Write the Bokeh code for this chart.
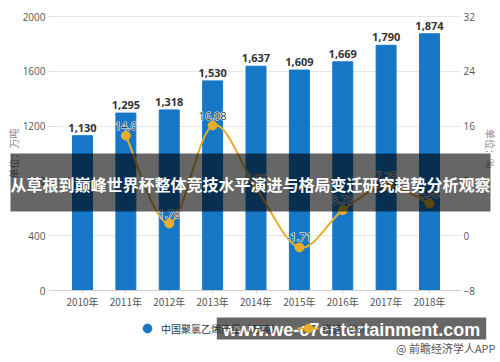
import numpy as np
from bokeh.plotting import figure
from bokeh.models import (Range1d, LinearAxis, FixedTicker, Label, Legend, LegendItem)
from bokeh.embed import file_html
from bokeh.resources import INLINE
from bokeh.core.properties import value

# ---------------- data ----------------
years = ["2010年", "2011年", "2012年", "2013年", "2014年", "2015年", "2016年", "2017年", "2018年"]
output = [1130, 1295, 1318, 1530, 1637, 1609, 1669, 1790, 1874]          # 万吨
growth_years = ["2011年", "2012年", "2013年", "2014年", "2015年", "2016年", "2017年", "2018年"]
growth = [14.6, 1.78, 16.08, 6.99, -1.71, 3.73, 7.25, 4.69]             # %
left_ticks = [0, 400, 800, 1200, 1600, 2000]
right_ticks = [-8, 0, 8, 16, 24, 32]

BLUE = "#1677C6"
GOLD = "#E5AE2C"
CJK = "Noto Sans CJK SC"

# ---------------- layout (pixels) ----------------
W, H = 500, 362
C0, C8 = 82, 429           # pixel centre of first / last category
PL, PR = 52, 460           # plot area left / right edge
PT, PB = 16, 290           # plot area top / bottom edge

ppx = (C8 - C0) / (len(years) - 1)
def xdata(px):
    return (px - C0) / ppx

lmin, lmax = left_ticks[0], left_ticks[-1]
rmin, rmax = right_ticks[0], right_ticks[-1]
ppl = (PB - PT) / (lmax - lmin)
ppr = (PB - PT) / (rmax - rmin)

p = figure(width=W, height=H, output_backend="svg", toolbar_location=None,
           x_range=Range1d(xdata(0), xdata(W)),
           y_range=Range1d(lmin - (H - PB) / ppl, lmax + PT / ppl),
           min_border_left=0, min_border_right=0, min_border_top=0, min_border_bottom=0)
p.outline_line_color = None
p.extra_y_ranges = {"pct": Range1d(rmin - (H - PB) / ppr, rmax + PT / ppr)}

xl, xr = xdata(PL), xdata(PR)
xi = list(range(len(years)))
gx = [years.index(y) for y in growth_years]

# bars
p.vbar(x=xi, top=output, width=0.46, color=BLUE)

# smooth growth line (Catmull-Rom -> cubic Bezier)
P = np.column_stack([np.array(gx, float), np.array(growth, float)])
ext = np.vstack([P[0], P, P[-1]])
x0, y0, x1, y1, cx0, cy0, cx1, cy1 = ([] for _ in range(8))
for i in range(len(P) - 1):
    pm, pa, pb, pn = ext[i], ext[i + 1], ext[i + 2], ext[i + 3]
    c1 = pa + (pb - pm) / 6.0
    c2 = pb - (pn - pa) / 6.0
    x0.append(pa[0]); y0.append(pa[1]); x1.append(pb[0]); y1.append(pb[1])
    cx0.append(c1[0]); cy0.append(c1[1]); cx1.append(c2[0]); cy1.append(c2[1])
p.bezier(x0=x0, y0=y0, x1=x1, y1=y1, cx0=cx0, cy0=cy0, cx1=cx1, cy1=cy1,
         line_color=GOLD, line_width=2, y_range_name="pct")
p.scatter(gx, growth, size=9, fill_color=GOLD, line_color=GOLD, y_range_name="pct")

# value labels
p.text(x=xi, y=output, text=[f"{v:,}" for v in output], y_offset=-4,
       text_align="center", text_baseline="bottom", text_font=value("Open Sans"),
       text_font_size="11px", text_font_style="bold", text_color="#333333")
glabels = [f"{v:g}" for v in growth]
for kw in (dict(text_color="white", text_outline_color="white"), dict(text_color="#3a3a3a")):
    p.text(x=gx, y=growth, text=glabels, y_offset=-6,
           text_align="center", text_baseline="bottom", text_font=value("Open Sans"),
           text_font_size="11px", y_range_name="pct", **kw)

# grid
p.xgrid.visible = False
p.ygrid.grid_line_color = "#e6e6e6"
p.ygrid.ticker = FixedTicker(ticks=left_ticks)
p.ygrid.bounds = (lmin, lmax)
p.ygrid.cross_bounds = (xl, xr)

# axes
xa = p.xaxis[0]
xa.fixed_location = lmin
xa.bounds = (xl, xr)
xa.ticker = FixedTicker(ticks=xi)
xa.major_label_overrides = {i: years[i] for i in xi}
xa.axis_line_color = "#cccccc"
xa.major_tick_line_color = "#cccccc"
xa.major_tick_in = 0
xa.major_tick_out = 3
xa.minor_tick_line_color = None
xa.major_label_text_font = CJK
xa.major_label_text_font_size = "10px"
xa.major_label_text_color = "#555555"
xa.major_label_standoff = 0

ya = p.yaxis[0]
ya.fixed_location = xl
ya.bounds = (lmin, lmax)
ya.ticker = FixedTicker(ticks=left_ticks)
ya.axis_line_color = None
ya.major_tick_line_color = "#dddddd"
ya.major_tick_in = 0
ya.major_tick_out = 5
ya.minor_tick_line_color = None
ya.major_label_text_font = "Open Sans"
ya.major_label_text_font_size = "10px"
ya.major_label_text_color = "#555555"
ya.major_label_standoff = 2

ra = LinearAxis(y_range_name="pct", ticker=FixedTicker(ticks=right_ticks))
ra.fixed_location = xr
ra.bounds = (rmin, rmax)
ra.axis_line_color = None
ra.major_tick_line_color = None
ra.major_tick_out = 0
ra.minor_tick_line_color = None
ra.major_label_text_font = "Open Sans"
ra.major_label_text_font_size = "10px"
ra.major_label_text_color = "#555555"
ra.major_label_standoff = 3
p.add_layout(ra, "right")

def sy(py):
    return H - py

# axis titles
p.add_layout(Label(x=13, y=sy(153), x_units="screen", y_units="screen", text="单位：万吨",
                   angle=np.pi / 2, text_align="center", text_baseline="middle",
                   text_font=CJK, text_font_size="10px", text_color="#888888"))
p.add_layout(Label(x=490, y=sy(148), x_units="screen", y_units="screen", text="单位：%",
                   angle=-np.pi / 2, text_align="center", text_baseline="middle",
                   text_font=CJK, text_font_size="10px", text_color="#888888"))

# legend proxies (not drawn in the plot: NaN position)
nan = [float("nan")]
lb = p.scatter(x=nan, y=nan, size=10, color=BLUE)
ll = p.line(x=nan, y=nan, line_color=GOLD, line_width=2)
lm = p.scatter(x=nan, y=nan, size=8, color=GOLD)
legend = Legend(items=[LegendItem(label="中国聚氯乙烯产量（万吨）", renderers=[lb]),
                       LegendItem(label="增速（%）", renderers=[ll, lm])],
                location=(136, sy(339)), orientation="horizontal", border_line_color=None,
                background_fill_alpha=0, padding=0, margin=0, spacing=16,
                glyph_width=22, glyph_height=22, label_height=22, label_standoff=3,
                label_text_font=CJK, label_text_font_size="10px", label_text_color="#333333")
p.add_layout(legend)

# source note
p.add_layout(Label(x=495, y=sy(347), x_units="screen", y_units="screen",
                   text="@ 前瞻经济学人APP", text_align="right", text_baseline="middle",
                   text_font=CJK, text_font_size="11px", text_color="#555555"))

# overlay bands
p.add_layout(Label(x=250, y=sy(182), x_units="screen", y_units="screen",
                   text="从草根到巅峰世界杯整体竞技水平演进与格局变迁研究趋势分析观察",
                   text_align="center", text_baseline="middle", text_font=CJK,
                   text_font_size="16px", text_font_style="bold", text_color="white",
                   background_fill_color="black", background_fill_alpha=0.6,
                   padding=dict(left=0, right=0, top=18, bottom=16)))
p.add_layout(Label(x=351, y=sy(328), x_units="screen", y_units="screen",
                   text="www.we-c7entertainment.com",
                   text_align="center", text_baseline="middle", text_font="Liberation Sans",
                   text_font_size="18px", text_font_style="bold", text_color="white",
                   background_fill_color="black", background_fill_alpha=0.6,
                   padding=dict(left=6, right=6, top=2, bottom=0)))

open("out.html", "w").write(file_html(p, INLINE))
